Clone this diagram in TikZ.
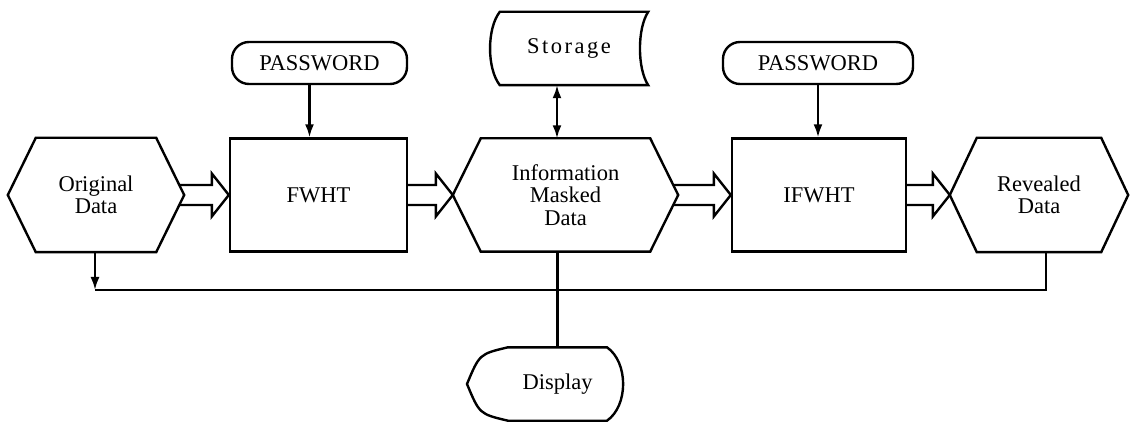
\documentclass[tikz,border=0pt]{standalone}
\usepackage{fontspec}
\setmainfont{Liberation Serif}
\usetikzlibrary{calc,arrows.meta}

% outline of a hexagonal data node, #2 = horizontal size of the cut corners
\newcommand\hexoutline[2]{%
  \draw[outline] (#1.west) -- ([xshift=#2]#1.north west) -- ([xshift=-#2]#1.north east)
    -- (#1.east) -- ([xshift=-#2]#1.south east) -- ([xshift=#2]#1.south west) -- cycle;}

% hollow block arrow from #1 to the tip #2 (same height)
\newcommand\fatarrow[2]{%
  \draw[outline] ($(#1)+(0,-10)$) -- ($(#2)+(-17,-10)$) -- ($(#2)+(-17,-21.5)$) -- (#2)
    -- ($(#2)+(-17,21.5)$) -- ($(#2)+(-17,10)$) -- ($(#1)+(0,10)$);}

\begin{document}
\begin{tikzpicture}[x=1pt,y=-1pt,
  outline/.style={line width=2.4pt, line join=miter},
  txt/.style={font=\fontsize{22.5}{22.5}\selectfont, align=center, inner sep=0pt},
  procbox/.style={txt, draw, line width=2.4pt},
  term/.style={txt, draw, line width=2.4pt, rounded corners=17pt},
  flow/.style={line width=2.2pt},
  tip/.style={-{Latex[length=13pt,width=9pt]}},
  tips/.style={{Latex[length=13pt,width=9pt]}-{Latex[length=13pt,width=9pt]}}]
\useasboundingbox (0,0) rectangle (1133,422);

% nodes
\node[txt, minimum width=176pt, minimum height=114pt] (orig) at (96,195) {Original\\Data};
\node[procbox, minimum width=177pt, minimum height=113pt] (fwht) at (318.5,195) {FWHT};
\node[term, minimum width=175pt, minimum height=42pt] (pw1) at (319.5,63) {PASSWORD};
\node[txt, minimum width=225pt, minimum height=113pt] (info) at (565.5,195) {Information\\Masked\\Data};
\node[txt, minimum width=158pt, minimum height=73pt] (store) at (569,48.5)
  {\addfontfeature{LetterSpace=11}Storage};
\node[procbox, minimum width=174pt, minimum height=113pt] (ifwht) at (819,195) {IFWHT};
\node[term, minimum width=190pt, minimum height=42pt] (pw2) at (818,63) {PASSWORD};
\node[txt, minimum width=178pt, minimum height=114pt] (rev) at (1039,195) {Revealed\\Data};
\node[txt, minimum height=73pt] (disp) at (557.5,384) {Display};

% node outlines
\hexoutline{orig}{28pt}
\hexoutline{info}{28pt}
\hexoutline{rev}{27pt}
\draw[outline] ($(store.north west)+(10,0)$)
    .. controls ($(store.west)+(-3,-20)$) and ($(store.west)+(-3,20)$) .. ($(store.south west)+(10,0)$)
    -- (store.south east)
    .. controls ($(store.east)+(-11,20)$) and ($(store.east)+(-11,-20)$) .. (store.north east) -- cycle;
\draw[outline] ($(disp.north)+(-49.5,0)$) -- ($(disp.north)+(49.5,0)$)
    .. controls ($(disp.north)+(71,15)$) and ($(disp.south)+(71,-15)$) .. ($(disp.south)+(49.5,0)$)
    -- ($(disp.south)+(-49.5,0)$)
    .. controls ($(disp.center)+(-78,30)$) .. ($(disp.center)+(-90.5,0)$)
    .. controls ($(disp.center)+(-78,-30)$) .. ($(disp.north)+(-49.5,0)$);

% block arrows of the main data path
\fatarrow{[xshift=-5pt]orig.east}{fwht.west}
\fatarrow{fwht.east}{info.west}
\fatarrow{[xshift=-5pt]info.east}{ifwht.west}
\fatarrow{ifwht.east}{rev.west}

% passwords and storage
\coordinate (pw1out) at ([xshift=-10pt]pw1.south);
\draw[flow, tip] (pw1out) -- (pw1out |- fwht.north);
\draw[flow, tip] (pw2.south) -- (pw2.south |- ifwht.north);
\coordinate (stout) at ([xshift=-12pt]store.south);
\draw[flow, tips] (stout) -- (stout |- info.north);

% display and return line
\draw[flow] (info.south -| disp.north) -- (disp.north);
\coordinate (fb) at (95,290);
\coordinate (revout) at ([xshift=7pt]rev.south);
\draw[flow, tip] (orig.south -| fb) -- (fb);
\draw[flow] (revout) |- (fb);
\end{tikzpicture}
\end{document}
